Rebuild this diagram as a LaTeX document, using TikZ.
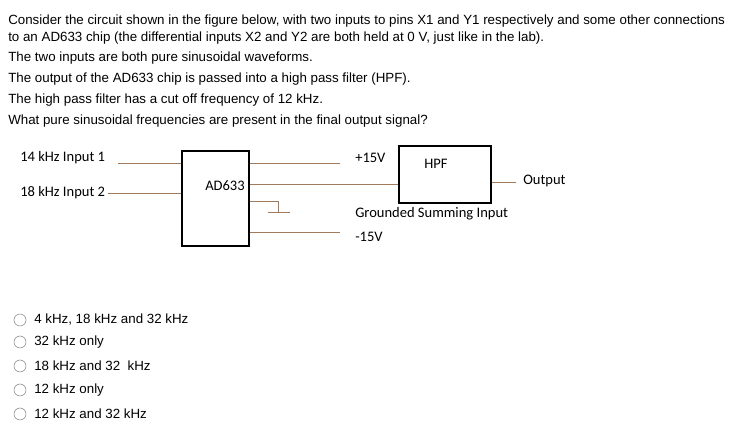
\documentclass[tikz,border=0pt]{standalone}
\usepackage{fontspec}
\setmainfont{Liberation Sans}
\newfontfamily\carlitofont{Carlito}
\definecolor{wire}{HTML}{A07A5A}
\begin{document}
\begin{tikzpicture}[x=0.75pt,y=-0.75pt,
  txt/.style={anchor=west,inner sep=0,font=\fontsize{10}{12}\selectfont},
  lbl/.style={anchor=west,inner sep=0,font=\carlitofont\fontsize{10.9}{12}\selectfont},
  wire/.style={draw=wire,line width=0.75pt},
  box/.style={draw,line width=1.5pt,inner sep=0},
  radio/.style={draw=gray,circle,minimum size=9pt,inner sep=0}]
\useasboundingbox (0,0) rectangle (738,442);
\node[txt] (t1) at (8,21) {Consider the circuit shown in the figure below, with two inputs to pins X1 and Y1 respectively and some other connections};
\node[txt] (t2) at (8,38) {to an AD633 chip (the differential inputs X2 and Y2 are both held at 0 V, just like in the lab).};
\node[txt] (t3) at (8,58) {The two inputs are both pure sinusoidal waveforms.};
\node[txt] (t4) at (8,79) {The output of the AD633 chip is passed into a high pass filter (HPF).};
\node[txt] (t5) at (8,100) {The high pass filter has a cut off frequency of 12 kHz.};
\node[txt] (t6) at (8,121) {What pure sinusoidal frequencies are present in the final output signal?};
% chip
\node[box,minimum width=67*0.75pt,minimum height=95*0.75pt] (chip) at (215.5,198.5) {};
\node[lbl] (chiplbl) at (205,186) {AD633};
\node[box,minimum width=92*0.75pt,minimum height=57*0.75pt] (hpf) at (445,174.5) {};
\node[lbl] (hpflbl) at (424,164) {HPF};
\node[lbl] (in1) at (20,158) {14 kHz Input 1};
\node[lbl] (in2) at (20,193) {18 kHz Input 2};
\node[lbl] (p15) at (355,158) {+15V};
\node[lbl] (gsi) at (355,214) {Grounded Summing Input};
\node[lbl] (m15) at (355,237) {-15V};
\node[lbl] (out) at (523,181) {Output};
\coordinate (a1) at (118,163); \coordinate (a2) at (108,193);
\draw[wire] (a1) -- (a1 -| chip.west);
\draw[wire] (a2) -- (a2 -| chip.west);
\coordinate (b1) at (340,163); \coordinate (b2) at (340,232);
\draw[wire] (b1 -| chip.east) -- (b1);
\draw[wire] (b2 -| chip.east) -- (b2);
\draw[wire] (chip.east |- 0,184) -- (hpf.west |- 0,184);
\coordinate (g) at (278,201);
\draw[wire] (g -| chip.east) -- (g) -- (278,212);
\coordinate (g1) at (268,212); \coordinate (g2) at (290,212);
\draw[wire] (g1) -- (g2);
\coordinate (o) at (516,182);
\draw[wire] (hpf.east |- o) -- (o);
% options
\foreach \y/\t [count=\i] in {320/{4 kHz, 18 kHz and 32 kHz},342/{32 kHz only},366/{18 kHz and 32\ \ kHz},390/{12 kHz only},414/{12 kHz and 32 kHz}}{
  \node[radio] (r\i) at (20,\y) {};
  \node[txt] (o\i) at (34,\y) {\t};
}
\end{tikzpicture}
\end{document}
